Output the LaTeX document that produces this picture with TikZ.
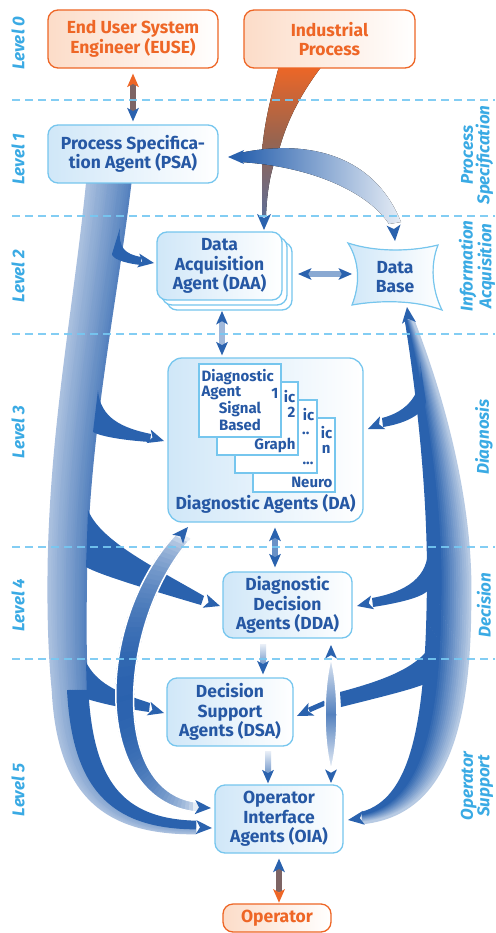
\documentclass[tikz,border=0pt]{standalone}
\usepackage{fontspec}
\setmainfont{Fira Sans}
\usetikzlibrary{calc}

\definecolor{dkblue}{RGB}{42,98,174}
\definecolor{txtblue}{RGB}{38,88,164}
\definecolor{bdblue}{RGB}{118,198,238}
\definecolor{fillblue}{RGB}{208,231,248}
\definecolor{lvlblue}{RGB}{58,170,228}
\definecolor{dashblue}{RGB}{118,200,242}
\definecolor{orng}{RGB}{238,102,38}
\definecolor{orngfill}{RGB}{252,220,200}
\definecolor{brnshaft}{RGB}{125,100,100}
\definecolor{ipbrown}{RGB}{150,100,80}
\definecolor{ipgray}{RGB}{95,110,150}

\newcommand\boxfont{\fontsize{17.5}{19.5}\selectfont\bfseries}
\newcommand\cardfont{\fontsize{15}{16}\selectfont\bfseries}
\newcommand\lvlfont{\fontsize{17}{16.5}\selectfont\bfseries\itshape}

\pgfdeclarelayer{bg}
\pgfdeclarelayer{lines}
\pgfsetlayers{bg,lines,main}

\tikzset{
  agent/.style={rounded corners=10pt, draw=bdblue, line width=1.3pt, left color=fillblue, right color=white,
    text=txtblue, font=\boxfont, align=center, inner sep=0pt},
  extern/.style={agent, draw=orng, left color=orngfill, right color=white, text=orng},
  stackcopy/.style={rounded corners=10pt, draw=bdblue, line width=1.3pt, fill=white, inner sep=0pt},
  dcard/.style={draw=bdblue, line width=1.2pt, fill=white, inner sep=0pt},
  cardtxt/.style={text=txtblue, font=\cardfont, inner sep=0pt},
  lvl/.style={text=lvlblue, font=\lvlfont, align=center, rotate=90},
  level line/.style={dashblue, line width=1.8pt, dash pattern=on 8pt off 5pt},
  hd/.pic={\fill (0,0) -- (-16,-7) -- (-12,0) -- (-16,7) -- cycle;},
}

\begin{document}
\begin{tikzpicture}[x=1pt, y=-1pt]
\begin{pgfonlayer}{bg}
  \fill[white] (0,0) rectangle (495,933);
\end{pgfonlayer}
\path[use as bounding box] (0,0) rectangle (495,933);

% ---------- level separators and captions ----------
\begin{pgfonlayer}{lines}
  \foreach \yy in {100,216,334,547,659}
    \draw[level line, opacity=0.9] (12,\yy) -- (495,\yy);
\end{pgfonlayer}
\node[lvl] (l0) at (18,43)  {Level 0};
\node[lvl] (l1) at (18,159) {Level 1};
\node[lvl] (l2) at (18,276) {Level 2};
\node[lvl] (l3) at (18,432) {Level 3};
\node[lvl] (l4) at (18,605) {Level 4};
\node[lvl] (l5) at (18,790) {Level 5};
\node[lvl] (r1) at (477,155) {Process\\Specification};
\node[lvl] (r2) at (477,266) {Information\\Acquisition};
\node[lvl] (r3) at (484,437) {Diagnosis};
\node[lvl] (r4) at (484,605) {Decision};
\node[lvl] (r5) at (477,786) {Operator\\Support};

% ---------- boxes ----------
\node[extern, minimum width=170pt, minimum height=58pt] (euse) at (133,39) {End User System\\Engineer (EUSE)};
\node[extern, minimum width=171pt, minimum height=58pt] (ip) at (329.5,39) {Industrial\\Process};
\node[agent, minimum width=170pt, minimum height=58pt] (psa) at (133,154) {Process Specifica-\\tion Agent (PSA)};

\node[stackcopy, minimum width=125pt, minimum height=68pt] (daa2) at (229.5,276) {};
\node[stackcopy, minimum width=125pt, minimum height=68pt] (daa1) at (224.5,271) {};
\node[agent, minimum width=125pt, minimum height=68pt] (daa) at (219.5,266) {Data\\Acquisition\\Agent (DAA)};

\filldraw[draw=bdblue, line width=1.2pt, left color=fillblue, right color=white]
  (348,243) .. controls (375,252) and (410,252) .. (438,245)
  .. controls (430,265) and (432,290) .. (442,310)
  .. controls (415,300) and (380,300) .. (352,305)
  .. controls (360,285) and (360,262) .. (348,243) -- cycle;
\node[text=txtblue, font=\boxfont, align=center, minimum width=90pt, minimum height=60pt, inner sep=0pt] (db) at (395,277) {Data\\Base};

% diagnostic agents: a stack of cards, back to front
\node[agent, rounded corners=14pt, minimum width=195pt, minimum height=164pt] (da) at (265.5,440) {};
\node[dcard, minimum width=82pt, minimum height=74pt] (c4) at (294,455) {};
\node[cardtxt, anchor=east] at ($(c4.north east)+(-3,15)$) {ic};
\node[cardtxt, anchor=east] at ($(c4.north east)+(-5,32)$) {n};
\node[cardtxt, anchor=east] at ($(c4.south east)+(-3,-10)$) {Neuro};
\node[dcard, minimum width=82pt, minimum height=73pt] (c3) at (276,436.5) {};
\node[cardtxt, anchor=east] at ($(c3.north east)+(-3,15)$) {ic};
\node[cardtxt, anchor=east] at ($(c3.north east)+(-8,34)$) {..};
\node[cardtxt, anchor=east] at ($(c3.south east)+(-4,-10)$) {...};
\node[dcard, minimum width=81pt, minimum height=73pt] (c2) at (257.5,418.5) {};
\node[cardtxt, anchor=east] at ($(c2.north east)+(-3,15)$) {ic};
\node[cardtxt, anchor=east] at ($(c2.north east)+(-3,31)$) {2};
\node[cardtxt, anchor=east] at ($(c2.south east)+(-3,-10)$) {Graph};
\node[dcard, minimum width=82pt, minimum height=73pt] (c1) at (240,400.5) {};
\node[cardtxt, anchor=west] at ($(c1.north west)+(3,14)$) {Diagnostic};
\node[cardtxt, anchor=west] at ($(c1.north west)+(3,30)$) {Agent};
\node[cardtxt, anchor=east] at ($(c1.north east)+(-3,30)$) {1};
\node[cardtxt] at ($(c1.north)+(0,46)$) {Signal};
\node[cardtxt] at ($(c1.north)+(0,62)$) {Based};
\node[text=txtblue, font=\boxfont] (dalabel) at (265.5,504) {Diagnostic Agents (DA)};

\node[agent, minimum width=129pt, minimum height=66pt] (dda) at (287.5,605) {Diagnostic\\Decision\\Agents (DDA)};
\node[agent, minimum width=126pt, minimum height=68pt] (dsa) at (230,712) {Decision\\Support\\Agents (DSA)};
\node[agent, minimum width=128pt, minimum height=68pt] (oia) at (279,819) {Operator\\Interface\\Agents (OIA)};
\node[extern, minimum width=108pt, minimum height=28pt] (op) at (277,918) {Operator};

% ---------- ribbons and connectors (behind the boxes) ----------
\begin{pgfonlayer}{bg}
  % broad band leaving the PSA down the left side
  \foreach \k in {0,...,20}{%
    \pgfmathsetmacro\tw{\k/20}%
    \pgfmathtruncatemacro\pct{40+40*\tw}%
    \draw[line width=2.6pt, dkblue!\pct]
      ($(88,176)!\tw!(131,176)$) .. controls ($(76,300)!\tw!(118,290)$) and ($(52,420)!\tw!(90,420)$) .. ($(49,560)!\tw!(86,560)$)
      .. controls ($(48,620)!\tw!(85,620)$) and ($(50,660)!\tw!(85,660)$) .. ($(53,690)!\tw!(87,690)$);
  }
  \foreach \k in {0,...,20}{%
    \pgfmathsetmacro\tw{\k/20}%
    \pgfmathtruncatemacro\pct{\tw<0.45 ? 40+40*\tw : 100}%
    \draw[line width=2.6pt, dkblue!\pct]
      ($(53,690)!\tw!(87,690)$) .. controls ($(58,790)!\tw!(92,780)$) and ($(100,834)!\tw!(120,820)$) .. ($(196,833)!\tw!(196,822)$);
  }
  \pic[rotate=-3, color=dkblue] at (212,828) {hd};

  % branches of the left band
  \fill[dkblue] (120,228) .. controls (118,248) and (125,254) .. (141,257) -- (141,265)
    .. controls (122,263) and (112,258) .. (112,254) -- cycle;
  \pic[rotate=-9, color=dkblue] at (154,263) {hd};
  \fill[dkblue] (98,390) .. controls (100,418) and (122,428) .. (151,434) -- (150,442)
    .. controls (120,440) and (100,436) .. (93,432) -- cycle;
  \pic[rotate=-17, color=dkblue] at (164,441) {hd};
  \fill[dkblue] (88,510) .. controls (100,540) and (150,565) .. (204,596) -- (201,605)
    .. controls (150,590) and (100,575) .. (86,567) -- cycle;
  \pic[rotate=-18, color=dkblue] at (220,606) {hd};
  \fill[dkblue] (86,662) .. controls (96,682) and (115,692) .. (150,703) -- (149,712)
    .. controls (115,707) and (97,702) .. (87,699) -- cycle;
  \pic[rotate=-16, color=dkblue] at (164,713) {hd};

  % broad band leaving the data base down the right side
  \foreach \k in {0,...,20}{%
    \pgfmathsetmacro\tw{\k/20}%
    \pgfmathtruncatemacro\pct{100-93*max(0,\tw-0.3)}%
    \draw[line width=2.6pt, dkblue!\pct]
      ($(406,320)!\tw!(413,320)$) .. controls ($(422,420)!\tw!(452,420)$) and ($(430,520)!\tw!(472,520)$) .. ($(428,600)!\tw!(470,600)$)
      .. controls ($(426,730)!\tw!(470,740)$) and ($(410,800)!\tw!(440,815)$) .. ($(362,813)!\tw!(362,823)$);
  }
  \pic[rotate=97, color=dkblue] at (407,307) {hd};
  \pic[rotate=188, color=dkblue] at (348,820) {hd};

  % branches of the right band
  \fill[dkblue] (420,362) .. controls (424,395) and (406,412) .. (382,418) -- (383,427)
    .. controls (408,423) and (424,413) .. (426,402) -- cycle;
  \pic[rotate=203, color=dkblue] at (368,429) {hd};
  \fill[dkblue] (428,545) .. controls (430,578) and (405,592) .. (372,598) -- (373,607)
    .. controls (405,602) and (426,596) .. (430,588) -- cycle;
  \pic[rotate=193, color=dkblue] at (357,606) {hd};
  \fill[dkblue] (429,648) .. controls (415,668) and (385,680) .. (340,692) -- (341,707)
    .. controls (385,696) and (418,688) .. (429,682) -- cycle;
  \draw[dkblue, line width=5pt] (325,703) -- (309,710);
  \pic[rotate=205, color=dkblue] at (297,716) {hd};

  % industrial process feeding the data acquisition
  \fill[top color=orng, bottom color=ipgray, middle color=ipbrown]
    (279,66) .. controls (270,100) and (264,125) .. (262,152) -- (262,216) -- (266,216)
    .. controls (267,190) and (271,168) .. (279,150) .. controls (287,120) and (302,92) .. (322,66) -- cycle;
  \pic[rotate=-90, color=dkblue] at (264,230) {hd};

  % data base <-> process specification
  \fill[left color=dkblue, right color=dkblue!12]
    (240,153) .. controls (300,140) and (372,150) .. (401,222) -- (389,224)
    .. controls (370,195) and (318,167) .. (240,162) -- cycle;
  \pic[rotate=180, color=dkblue] at (228,157) {hd};
  \pic[rotate=-85, color=dkblue] at (395,241) {hd};

  % operator interface <-> diagnostic agents: band shaded along its length
  \foreach \k in {0,...,70}{%
    \pgfmathsetmacro\sp{\k/70}%
    \pgfmathtruncatemacro\pct{12+88*sqrt(sin(180*\sp))}%
    \path (176,534) .. controls (95,620) and (90,800) .. (196,812) coordinate[pos=\sp] (bo);
    \path (189,541) .. controls (120,620) and (108,790) .. (196,802) coordinate[pos=\sp] (bi);
    \draw[dkblue!\pct, line width=5.5pt] (bo) -- (bi);
  }
  \draw[white, line width=1.5pt]
    (176,534) .. controls (95,620) and (90,800) .. (196,812)
    (189,541) .. controls (120,620) and (108,790) .. (196,802);
  \pic[rotate=50, color=dkblue] at (188,527) {hd};
  \pic[rotate=-3, color=dkblue] at (211,808) {hd};

  % decision agents <-> operator interface
  \filldraw[draw=white, line width=1.5pt, top color=dkblue!15, bottom color=dkblue!10, middle color=dkblue!80]
    (331,658) .. controls (323,690) and (323,740) .. (331,770) .. controls (339,740) and (339,690) .. (331,658) -- cycle;
  \pic[rotate=90, color=dkblue, scale=0.85] at (331,645) {hd};
  \pic[rotate=-90, color=dkblue, scale=0.85] at (331,783) {hd};

  % short links between neighbouring boxes
  \fill[brnshaft] ($(euse.south)+(-3,13)$) rectangle ($(psa.north)+(3,-12)$);
  \pic[rotate=90, color=orng, scale=0.85] at ($(euse.south)+(0,5)$) {hd};
  \pic[rotate=-90, color=dkblue, scale=0.85] at ($(psa.north)+(0,-3)$) {hd};

  \fill[brnshaft] ($(oia.south)+(-3,14)$) rectangle ($(oia.south)+(3,38)$);
  \pic[rotate=90, color=dkblue, scale=0.85] at ($(oia.south)+(0,5)$) {hd};
  \pic[rotate=-90, color=orng, scale=0.85] at ($(oia.south)+(0,49)$) {hd};

  \fill[dkblue!55] (306,271) rectangle (344,277);
  \pic[rotate=180, color=dkblue, scale=0.85] at (298,274) {hd};
  \pic[rotate=0, color=dkblue, scale=0.85] at (352,274) {hd};

  \fill[dkblue!45] (219,320) rectangle (225,347);
  \pic[rotate=90, color=dkblue, scale=0.85] at (222,311) {hd};
  \pic[rotate=-90, color=dkblue, scale=0.85] at ($(da.north)+(-43.5,-2)$) {hd};

  \fill[dkblue!70] (272,535) rectangle (278,560);
  \pic[rotate=90, color=dkblue, scale=0.85] at ($(da.south)+(9.5,5)$) {hd};
  \pic[rotate=-90, color=dkblue, scale=0.85] at ($(dda.north)+(-12.5,-4)$) {hd};

  \fill[top color=dkblue!10, bottom color=dkblue!70] (260,644) rectangle (266,666);
  \pic[rotate=-90, color=dkblue, scale=0.85] at ($(dsa.north)+(33,-3)$) {hd};

  \fill[top color=dkblue!10, bottom color=dkblue!70] (265,751) rectangle (271,775);
  \pic[rotate=-90, color=dkblue, scale=0.85] at ($(oia.north)+(-11,-1)$) {hd};
\end{pgfonlayer}
\end{tikzpicture}
\end{document}
